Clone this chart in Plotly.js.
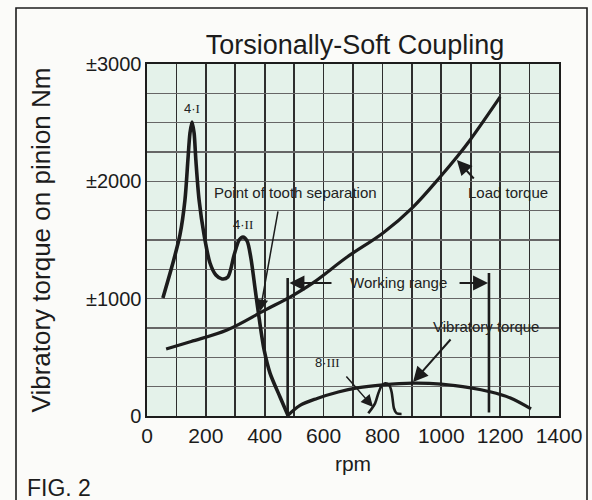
<!DOCTYPE html>
<html>
<head>
<meta charset="utf-8">
<script src="https://cdn.plot.ly/plotly-3.0.1.min.js"></script>
<style>html,body{margin:0;padding:0;background:#fbfbf9;}</style>
</head>
<body>
<div id="chart" style="width:592px;height:500px;"></div>
<script>
// ---- data ----
const rpmGrid = [0, 100, 200, 300, 400, 500, 600, 700, 800, 900, 1000, 1100, 1200, 1300, 1400];
const rpmTickText = ['0', '', '200', '', '400', '', '600', '', '800', '', '1000', '', '1200', '', '1400'];
const torqueGrid = [0, 250, 500, 750, 1000, 1250, 1500, 1750, 2000, 2250, 2500, 2750, 3000];
const torqueTickText = ['0', '', '', '', '±1000', '', '', '', '±2000', '', '', '', '±3000'];

// Vibratory torque: resonance part (4·I, 4·II) down to zero
const vibRpm = [54, 88, 112, 129, 139, 146, 153, 160, 166, 177, 194, 214, 234, 255, 275, 296, 313, 326, 340, 353, 367, 381, 398, 418, 452, 479];
const vibNm  = [1006, 1304, 1543, 1841, 2182, 2412, 2506, 2412, 2182, 1841, 1543, 1304, 1202, 1168, 1185, 1372, 1500, 1526, 1492, 1347, 1091, 835, 563, 366, 162, 5];
// Vibratory torque: arc across the working range
const arcRpm = [479, 520, 578, 650, 714, 802, 904, 1000, 1100, 1165, 1233, 1305];
const arcNm  = [5, 90, 150, 205, 240, 266, 280, 272, 240, 207, 155, 60];
// 8·III resonance
const spikeRpm = [752, 775, 786, 797, 809, 823, 831, 835, 839, 848, 865];
const spikeNm  = [23, 108, 193, 256, 279, 264, 207, 136, 66, 23, 17];
// Load torque
const loadRpm = [65, 150, 272, 401, 486, 564, 680, 802, 904, 996, 1053, 1098, 1200];
const loadNm  = [571, 635, 733, 903, 1014, 1135, 1355, 1560, 1781, 2037, 2207, 2352, 2719];
// Working range limits
const rangeRpm = [478, 1162];
const rangeTop = [1176, 1219];
const rangeBottom = [0, 30];

// ---- build traces ----
const ink = '#1c1c1c';
const traces = [
  {x: vibRpm, y: vibNm, mode: 'lines', name: 'Vibratory torque', line: {color: ink, width: 3.6, shape: 'spline', smoothing: 0.8}},
  {x: arcRpm, y: arcNm, mode: 'lines', name: 'Vibratory torque (arc)', line: {color: ink, width: 3.2, shape: 'spline', smoothing: 1}},
  {x: spikeRpm, y: spikeNm, mode: 'lines', name: '8·III', line: {color: ink, width: 2.6, shape: 'spline', smoothing: 0.8}},
  {x: loadRpm, y: loadNm, mode: 'lines', name: 'Load torque', line: {color: ink, width: 3.2, shape: 'spline', smoothing: 1}}
];
const rx = [], ry = [];
rangeRpm.forEach((r, i) => { rx.push(r, r, null); ry.push(rangeBottom[i], rangeTop[i], null); });
traces.push({x: rx, y: ry, mode: 'lines', name: 'Working range', line: {color: ink, width: 2.6}});

const W = 592, H = 500, L = 147, R = 33, T = 64, B = 84;
const pw = W - L - R, ph = H - T - B;
const px = v => (v - L) / pw;          // page pixel -> paper x
const py = v => (H - B - v) / ph;      // page pixel -> paper y

const lab = {family: 'Liberation Sans, Arial, sans-serif', size: 15, color: '#222'};
const arrow = (x, y, ax, ay, w, s) => ({x, y, ax, ay, xref: 'x', yref: 'y', axref: 'x', ayref: 'y', text: '', showarrow: true,
  arrowhead: 2, arrowsize: s || 1.4, arrowwidth: w || 1.8, arrowcolor: ink});
const serif = s => "<span style=\"font-family:'Liberation Serif'\">" + s + '</span>';

const layout = {
  width: W, height: H,
  margin: {l: L, r: R, t: T, b: B},
  paper_bgcolor: '#fbfbf9',
  plot_bgcolor: '#e4f2ea',
  showlegend: false,
  font: {family: 'Liberation Sans, Arial, sans-serif', color: '#1c1c1c'},
  title: {text: 'Torsionally-Soft Coupling', font: {size: 27, color: '#1c1c1c'}, x: px(355), xanchor: 'center', xref: 'paper', y: 1 - 45 / H, yanchor: 'middle'},
  xaxis: {
    range: [0, 1400], tickvals: rpmGrid, ticktext: rpmTickText, ticks: '',
    tickfont: {size: 21}, showgrid: true, gridcolor: '#2e2e2e', gridwidth: 1.6,
    showline: true, mirror: true, linecolor: '#1c1c1c', linewidth: 1.6, zeroline: false,
    title: {text: 'rpm', font: {size: 21}, standoff: 10}, automargin: false, fixedrange: true
  },
  yaxis: {
    range: [0, 3000], tickvals: torqueGrid, ticktext: torqueTickText, ticks: '',
    tickfont: {size: 20}, showgrid: true, gridcolor: '#666', gridwidth: 1.5,
    showline: true, mirror: true, linecolor: '#1c1c1c', linewidth: 1.6, zeroline: false,
    title: {text: 'Vibratory torque on pinion Nm', font: {size: 26}, standoff: 28}, automargin: false, fixedrange: true
  },
  shapes: [
    {type: 'rect', xref: 'paper', yref: 'paper', x0: px(16), x1: px(587), y0: py(520), y1: py(8), line: {color: '#1c1c1c', width: 1.6}, fillcolor: 'rgba(0,0,0,0)', layer: 'below'}
  ],
  annotations: [
    {x: 153, y: 2625, xref: 'x', yref: 'y', text: '4·' + serif('I'), showarrow: false, font: {size: 13, color: '#222'}},
    {x: 326, y: 1628, xref: 'x', yref: 'y', text: '4·' + serif('II'), showarrow: false, font: {size: 13, color: '#222'}},
    {x: 615, y: 452, xref: 'x', yref: 'y', text: '8·' + serif('III'), showarrow: false, font: {size: 13, color: '#222'}},
    {x: 503, y: 1909, xref: 'x', yref: 'y', text: 'Point of tooth separation', showarrow: false, font: lab},
    arrow(384, 890, 446, 1756, 1.5, 1.6),
    {x: 1227, y: 1901, xref: 'x', yref: 'y', text: 'Load torque', showarrow: false, font: lab},
    arrow(1053, 2182, 1115, 2011, 2, 1.5),
    {x: 856, y: 1134, xref: 'x', yref: 'y', text: 'Working range', showarrow: false, font: lab},
    arrow(484, 1134, 632, 1134, 2, 1.5),
    arrow(1159, 1134, 1057, 1134, 2, 1.5),
    {x: 1152, y: 759, xref: 'x', yref: 'y', text: 'Vibratory torque', showarrow: false, font: lab},
    arrow(904, 290, 1036, 665, 2, 1.5),
    arrow(768, 77, 673, 349, 1.5, 1.6),
    {x: px(25), y: py(488), xref: 'paper', yref: 'paper', xanchor: 'left', yanchor: 'middle', text: 'FIG. 2', showarrow: false, font: {size: 23, color: '#1c1c1c'}}
  ]
};

Plotly.newPlot('chart', traces, layout, {staticPlot: true, displayModeBar: false});
</script>
</body>
</html>
